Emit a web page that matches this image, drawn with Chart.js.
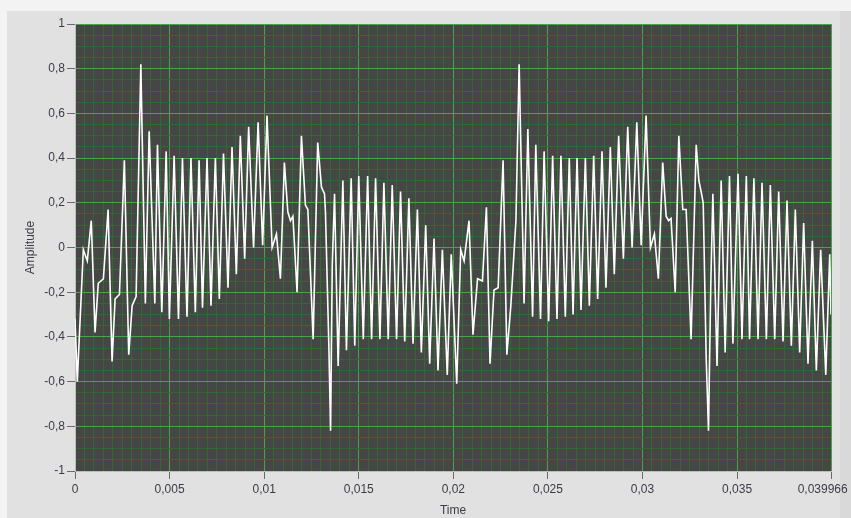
<!DOCTYPE html>
<html>
<head>
<meta charset="utf-8">
<script src="https://cdn.jsdelivr.net/npm/chart.js@4.4.1/dist/chart.umd.min.js"></script>
<style>
  html, body { margin: 0; padding: 0; }
  body { width: 851px; height: 518px; background: #f3f3f3; position: relative; overflow: hidden; }
  #panel { position: absolute; left: 7px; top: 11px; width: 833px; height: 507px; background: #e1e1e1; }
  #edge { position: absolute; left: 840px; top: 11px; width: 11px; height: 507px; background: #d9d9d9; }
  #wrap { position: absolute; left: 0; top: 0; width: 851px; height: 518px; }
</style>
</head>
<body>
<div id="panel"></div>
<div id="edge"></div>
<div id="wrap"><canvas id="waveChart" width="851" height="518"></canvas></div>
<script>
// time of each sample point, in ms
const timeMs = [
    0.00, 0.12, 0.44, 0.65, 0.86, 1.06, 1.23, 1.50, 1.75, 1.96,
    2.12, 2.35, 2.61, 2.84, 3.02, 3.23, 3.48, 3.72, 3.92, 4.22,
    4.36, 4.59, 4.82, 4.99, 5.24, 5.47, 5.68, 5.92, 6.13, 6.36,
    6.56, 6.74, 6.98, 7.19, 7.42, 7.63, 7.85, 8.09, 8.30, 8.53,
    8.74, 8.97, 9.18, 9.44, 9.68, 9.92, 10.15, 10.42, 10.65, 10.86,
    11.07, 11.25, 11.39, 11.52, 11.74, 11.97, 12.18, 12.31, 12.59, 12.83,
    13.03, 13.19, 13.24, 13.42, 13.51, 13.60, 13.72, 13.91, 14.16, 14.35,
    14.60, 14.79, 15.00, 15.24, 15.47, 15.68, 15.89, 16.12, 16.33, 16.56,
    16.77, 17.00, 17.21, 17.43, 17.65, 17.87, 18.10, 18.31, 18.54, 18.75,
    18.98, 19.19, 19.42, 19.68, 19.89, 20.18, 20.39, 20.57, 20.83, 21.04,
    21.28, 21.54, 21.75, 21.94, 22.15, 22.37, 22.63, 22.83, 23.04, 23.31,
    23.48, 23.74, 23.94, 24.19, 24.36, 24.61, 24.80, 25.04, 25.25, 25.48,
    25.69, 25.92, 26.13, 26.33, 26.54, 26.75, 26.98, 27.19, 27.42, 27.63,
    27.86, 28.07, 28.30, 28.51, 28.74, 28.99, 29.22, 29.45, 29.70, 29.93,
    30.19, 30.42, 30.63, 30.84, 31.07, 31.25, 31.38, 31.51, 31.73, 31.92,
    32.13, 32.31, 32.57, 32.84, 32.98, 33.10, 33.21, 33.37, 33.49, 33.61,
    33.72, 33.94, 34.16, 34.37, 34.60, 34.78, 35.05, 35.26, 35.49, 35.66,
    35.89, 36.11, 36.32, 36.55, 36.76, 36.99, 37.20, 37.43, 37.64, 37.87,
    38.08, 38.31, 38.52, 38.75, 38.98, 39.19, 39.42, 39.69, 39.90, 39.966
];

const amplitude = [
    -0.32, -0.60, -0.01, -0.06, 0.12, -0.38, -0.16, -0.14, 0.17, -0.51,
    -0.23, -0.21, 0.39, -0.48, -0.26, -0.22, 0.82, -0.25, 0.52, -0.25,
    0.46, -0.29, 0.43, -0.32, 0.41, -0.32, 0.40, -0.31, 0.40, -0.29,
    0.39, -0.27, 0.40, -0.26, 0.40, -0.23, 0.42, -0.18, 0.45, -0.12,
    0.50, -0.05, 0.54, 0.00, 0.56, 0.01, 0.59, 0.00, 0.06, -0.14,
    0.38, 0.16, 0.12, 0.14, -0.20, 0.50, 0.19, 0.17, -0.41, 0.47,
    0.27, 0.24, 0.16, -0.44, -0.82, -0.08, 0.24, -0.53, 0.30, -0.46,
    0.31, -0.44, 0.32, -0.41, 0.32, -0.41, 0.31, -0.41, 0.29, -0.41,
    0.28, -0.41, 0.25, -0.42, 0.22, -0.43, 0.17, -0.47, 0.10, -0.52,
    0.04, -0.55, -0.01, -0.57, -0.03, -0.61, -0.01, -0.06, 0.12, -0.39,
    -0.14, -0.15, 0.18, -0.52, -0.19, -0.18, 0.39, -0.48, -0.26, 0.12,
    0.82, -0.25, 0.53, -0.31, 0.46, -0.32, 0.43, -0.33, 0.41, -0.32,
    0.41, -0.31, 0.40, -0.30, 0.40, -0.28, 0.40, -0.26, 0.41, -0.23,
    0.43, -0.18, 0.45, -0.12, 0.50, -0.05, 0.54, 0.00, 0.56, 0.01,
    0.59, 0.00, 0.06, -0.14, 0.38, 0.14, 0.12, 0.13, -0.20, 0.50,
    0.17, 0.17, -0.41, 0.46, 0.30, 0.25, 0.20, -0.50, -0.82, -0.17,
    0.24, -0.53, 0.30, -0.47, 0.32, -0.43, 0.33, -0.41, 0.32, -0.41,
    0.31, -0.41, 0.29, -0.41, 0.28, -0.41, 0.25, -0.42, 0.21, -0.44,
    0.17, -0.47, 0.11, -0.52, 0.03, -0.55, -0.01, -0.57, -0.03, -0.30
];

// axis tick labels
const xTicks = [0, 0.005, 0.01, 0.015, 0.02, 0.025, 0.03, 0.035, 0.039966];
const yTicks = [-1, -0.8, -0.6, -0.4, -0.2, 0, 0.2, 0.4, 0.6, 0.8, 1];
const xMax = 0.039966;

const points = timeMs.map((t, i) => ({ x: t / 1000, y: amplitude[i] }));

const labelColor = '#3c3c48';
const majorGrid = 'rgb(70, 165, 70)';
const minorGrid = 'rgb(50, 105, 50)';

// major ticks get labels, minor ones only draw a darker grid line
function withMinor(majors, step, min, max) {
    const ticks = majors.map(v => ({ value: v, minor: false }));
    for (let v = min + step; v < max - step / 10; v += step) {
        const near = majors.some(m => Math.abs(m - v) < step / 10);
        if (!near) ticks.push({ value: v, minor: true });
    }
    return ticks.sort((a, b) => a.value - b.value);
}

const plotBg = {
    id: 'plotBg',
    beforeDraw(chart) {
        const { ctx, chartArea } = chart;
        ctx.save();
        ctx.fillStyle = '#464646';
        ctx.fillRect(chartArea.left, chartArea.top, chartArea.right - chartArea.left, chartArea.bottom - chartArea.top);
        ctx.restore();
    }
};

const gridColor = ctx => (ctx.tick && ctx.tick.minor) ? minorGrid : majorGrid;
const tickColor = ctx => (ctx.tick && ctx.tick.minor) ? 'rgba(0,0,0,0)' : '#6a6a6a';
const fmt = v => String(v).replace('.', ',');

new Chart(document.getElementById('waveChart'), {
    type: 'line',
    data: {
        datasets: [{
            data: points,
            borderColor: '#ffffff',
            borderWidth: 1.6,
            pointRadius: 0,
            tension: 0,
            fill: false
        }]
    },
    options: {
        responsive: false,
        animation: false,
        layout: { padding: { top: 24, right: 20, left: 0, bottom: 0 } },
        plugins: { legend: { display: false }, tooltip: { enabled: false } },
        scales: {
            x: {
                type: 'linear',
                min: 0,
                max: xMax,
                afterBuildTicks: s => { s.ticks = withMinor(xTicks, 0.0005, 0, xMax); },
                afterFit: s => { s.height = 47; s.paddingLeft = 0; s.paddingRight = 0; },
                grid: { color: gridColor, tickColor: tickColor, tickLength: 8, lineWidth: 1 },
                border: { display: true, color: '#bdbdbd' },
                ticks: {
                    autoSkip: false,
                    maxRotation: 0,
                    padding: 3,
                    color: labelColor,
                    font: { family: 'Liberation Sans', size: 12 },
                    // last label is kept inside the panel, as in the original
                    callback: (v, i, ticks) => {
                        if (ticks[i].minor) return '';
                        return v === xMax ? fmt(v) + '     ' : fmt(v);
                    }
                },
                title: {
                    display: true,
                    text: 'Time',
                    color: labelColor,
                    font: { family: 'Liberation Sans', size: 12 },
                    padding: { top: 0, bottom: 0 }
                }
            },
            y: {
                min: -1,
                max: 1,
                afterBuildTicks: s => { s.ticks = withMinor(yTicks, 0.05, -1, 1); },
                afterFit: s => { s.width = 75; s.paddingTop = 0; s.paddingBottom = 0; },
                grid: { color: gridColor, tickColor: tickColor, tickLength: 8, lineWidth: 1 },
                border: { display: true, color: '#bdbdbd' },
                ticks: {
                    autoSkip: false,
                    padding: 2,
                    color: labelColor,
                    font: { family: 'Liberation Sans', size: 12 },
                    callback: (v, i, ticks) => ticks[i].minor ? '' : fmt(v)
                },
                title: {
                    display: true,
                    text: 'Amplitude',
                    color: labelColor,
                    font: { family: 'Liberation Sans', size: 12 },
                    padding: { top: 23, bottom: 0 }
                }
            }
        }
    },
    plugins: [plotBg]
});
</script>
</body>
</html>
